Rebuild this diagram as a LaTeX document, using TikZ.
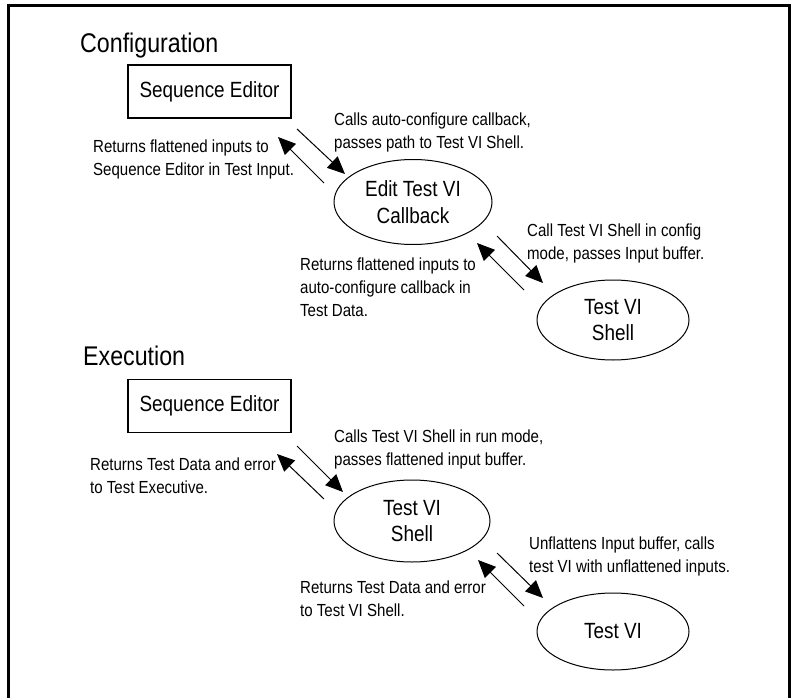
\documentclass[tikz,border=0pt]{standalone}
\usepackage{fontspec}
\setmainfont{Liberation Sans}[FakeStretch=0.86]
\usetikzlibrary{arrows.meta,shapes.geometric}
\begin{document}
\begin{tikzpicture}[x=1pt,y=-1pt,
  box/.style={draw, line width=1.2pt, rectangle, minimum width=163pt, minimum height=53pt, inner sep=0pt, font=\fontsize{22}{26.5}\selectfont},
  oval/.style={draw, line width=1pt, ellipse, inner sep=0pt, align=center, font=\fontsize{22}{26.5}\selectfont},
  note/.style={anchor=north west, inner sep=0pt, align=left, font=\fontsize{17.5}{23}\selectfont},
  title/.style={anchor=base west, inner sep=0pt, font=\fontsize{27}{32}\selectfont},
  flow/.style={line width=1pt, -{Triangle[length=17.5pt,width=15.5pt]}},
  frameline/.style={line width=2.7pt}
]
\useasboundingbox (0,0) rectangle (800,698);
% frame (open at the bottom)
\coordinate (fbl) at (8.7,698);
\coordinate (ftl) at (8.7,5.3);
\coordinate (ftr) at (789.3,5.3);
\coordinate (fbr) at (789.3,698);
\draw[frameline] (fbl) -- (ftl) -- (ftr) -- (fbr);

% ---------- Configuration ----------
\node[title] (tconf) at (80,53) {Configuration};
\node[box] (se1) at (209.5,91.5) {Sequence Editor};
\node[oval, minimum width=158pt, minimum height=85pt] (cb) at (413,202) {Edit Test VI\\Callback};
\node[oval, minimum width=152pt, minimum height=80pt] (sh1) at (613,320) {Test VI\\Shell};

\node[note] (n1) at (93,135.9) {\strut Returns flattened inputs to\\Sequence Editor in Test Input.};
\node[note] (n2) at (334,108.9) {\strut Calls auto-configure callback,\\passes path to Test VI Shell.};
\node[note] (n3) at (527,219.9) {\strut Call Test VI Shell in config\\mode, passes Input buffer.};
\node[note] (n4) at (300,253.9) {\strut Returns flattened inputs to\\auto-configure callback in\\Test Data.};

\coordinate (a1s) at (297,129);  \coordinate (a1e) at (345,174);
\coordinate (r1s) at (324,183);  \coordinate (r1e) at (278,137);
\coordinate (a2s) at (497,236);  \coordinate (a2e) at (543,283);
\coordinate (r2s) at (524,290);  \coordinate (r2e) at (477,243);
\draw[flow] (a1s) -- (a1e);
\draw[flow] (r1s) -- (r1e);
\draw[flow] (a2s) -- (a2e);
\draw[flow] (r2s) -- (r2e);

% ---------- Execution ----------
\node[title] (texec) at (83,365) {Execution};
\node[box] (se2) at (209.5,406) {Sequence Editor};
\node[oval, minimum width=156pt, minimum height=82pt] (sh2) at (412,521) {Test VI\\Shell};
\node[oval, minimum width=152pt, minimum height=77pt] (tv) at (613,631.5) {Test VI};

\node[note] (n5) at (90,453.9) {\strut Returns Test Data and error\\to Test Executive.};
\node[note] (n6) at (334,425.9) {\strut Calls Test VI Shell in run mode,\\passes flattened input buffer.};
\node[note] (n7) at (529,532.9) {\strut Unflattens Input buffer, calls\\test VI with unflattened inputs.};
\node[note] (n8) at (300,576.9) {\strut Returns Test Data and error\\to Test VI Shell.};

\coordinate (a3s) at (297,446);  \coordinate (a3e) at (343,492);
\coordinate (r3s) at (324,499);  \coordinate (r3e) at (277,454);
\coordinate (a4s) at (497,553);  \coordinate (a4e) at (543,598);
\coordinate (r4s) at (524,606);  \coordinate (r4e) at (478,560);
\draw[flow] (a3s) -- (a3e);
\draw[flow] (r3s) -- (r3e);
\draw[flow] (a4s) -- (a4e);
\draw[flow] (r4s) -- (r4e);
\end{tikzpicture}
\end{document}
